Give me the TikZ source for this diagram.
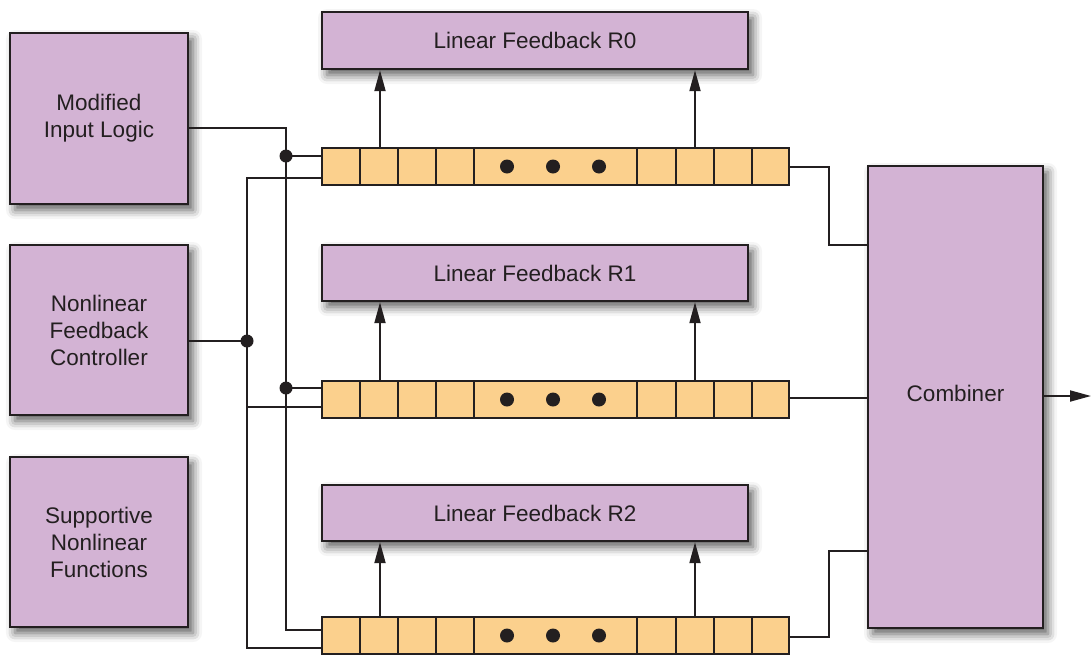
\documentclass[tikz,border=0pt]{standalone}
\usepackage{fontspec}
\setmainfont{Liberation Sans}
\usetikzlibrary{arrows.meta,shadows.blur,calc}
\definecolor{mauve}{HTML}{D3B3D4}
\definecolor{peach}{HTML}{FBD08D}
\definecolor{ink}{HTML}{231F20}
\begin{document}
\begin{tikzpicture}[x=1pt,y=-1pt,
  box/.style={draw=ink, line width=2.4pt, fill=mauve, inner sep=0pt, align=center,
    font=\fontsize{22.5}{27}\selectfont, text=ink,
    blur shadow={shadow xshift=5pt, shadow yshift=-6pt, shadow blur radius=9pt, shadow opacity=65}},
  regbox/.style={draw=ink, line width=2.6pt, fill=peach, inner sep=0pt,
    minimum width=467pt, minimum height=37pt},
  wire/.style={draw=ink, line width=1.9pt},
  arr/.style={wire, -{Triangle[length=21pt,width=11pt]}},
  blob/.style={circle, fill=ink, inner sep=0pt, minimum size=13pt},
  bigdot/.style={circle, fill=ink, inner sep=0pt, minimum size=14pt}
]
\useasboundingbox (0,0) rectangle (1091,654);

% left boxes
\node[box, minimum width=178pt, minimum height=171pt] (mil) at (99,118.5) {Modified\\Input Logic};
\node[box, minimum width=178pt, minimum height=170pt] (nfc) at (99,330) {Nonlinear\\Feedback\\Controller};
\node[box, minimum width=178pt, minimum height=170pt] (snf) at (99,542) {Supportive\\Nonlinear\\Functions};

% linear feedback boxes
\node[box, minimum width=426pt, minimum height=57pt] (lf0) at (535,40.5) {Linear Feedback R0};
\node[box, minimum width=426pt, minimum height=56pt] (lf1) at (535,273) {Linear Feedback R1};
\node[box, minimum width=426pt, minimum height=56pt] (lf2) at (535,513) {Linear Feedback R2};

% combiner
\node[box, minimum width=175pt, minimum height=462pt] (comb) at (955.5,397) {\raisebox{8pt}{Combiner}};

% registers
\foreach \n/\y in {0/166.5, 1/399.5, 2/635.5} {
  \node[regbox] (reg\n) at (555.5,\y) {};
  \foreach \xx in {360,398,436,474,637,676,714,752}
    \draw[ink, line width=2.6pt] (\xx,\y-18.5) -- (\xx,\y+18.5);
  \foreach \xx in {507,553,599}
    \node[bigdot] (d\n\xx) at (\xx,\y) {};
}

% arrows up to linear feedback
\foreach \n in {0,1,2} {
  \draw[arr] (reg\n.north -| 380,0) -- (lf\n.south -| 380,0);
  \draw[arr] (reg\n.north -| 695,0) -- (lf\n.south -| 695,0);
}

% to combiner
\draw[wire] (reg0.east |- 0,167) -- (829,167) -- (829,245) -- (comb.west |- 0,245);
\draw[wire] (reg1.east |- 0,398) -- (comb.west |- 0,398);
\draw[wire] (reg2.east |- 0,637) -- (829,637) -- (829,551) -- (comb.west |- 0,551);
\draw[arr] (comb.east |- 0,396) -- (1091,396);

% modified input logic wiring
\draw[wire] (mil.east |- 0,128) -- (286,128) -- (286,630) -- (reg2.west |- 0,630);
\node[blob] (j1) at (286,156) {};
\node[blob] (j2) at (286,388) {};
\draw[wire] (j1.center) -- (reg0.west |- j1);
\draw[wire] (j2.center) -- (reg1.west |- j2);

% nonlinear feedback controller wiring
\node[blob] (j3) at (247,341) {};
\draw[wire] (nfc.east |- j3) -- (j3.center);
\draw[wire] (reg0.west |- 0,178) -- (247,178) -- (247,648) -- (reg2.west |- 0,648);
\draw[wire] (247,407) -- (reg1.west |- 0,407);

\end{tikzpicture}
\end{document}
